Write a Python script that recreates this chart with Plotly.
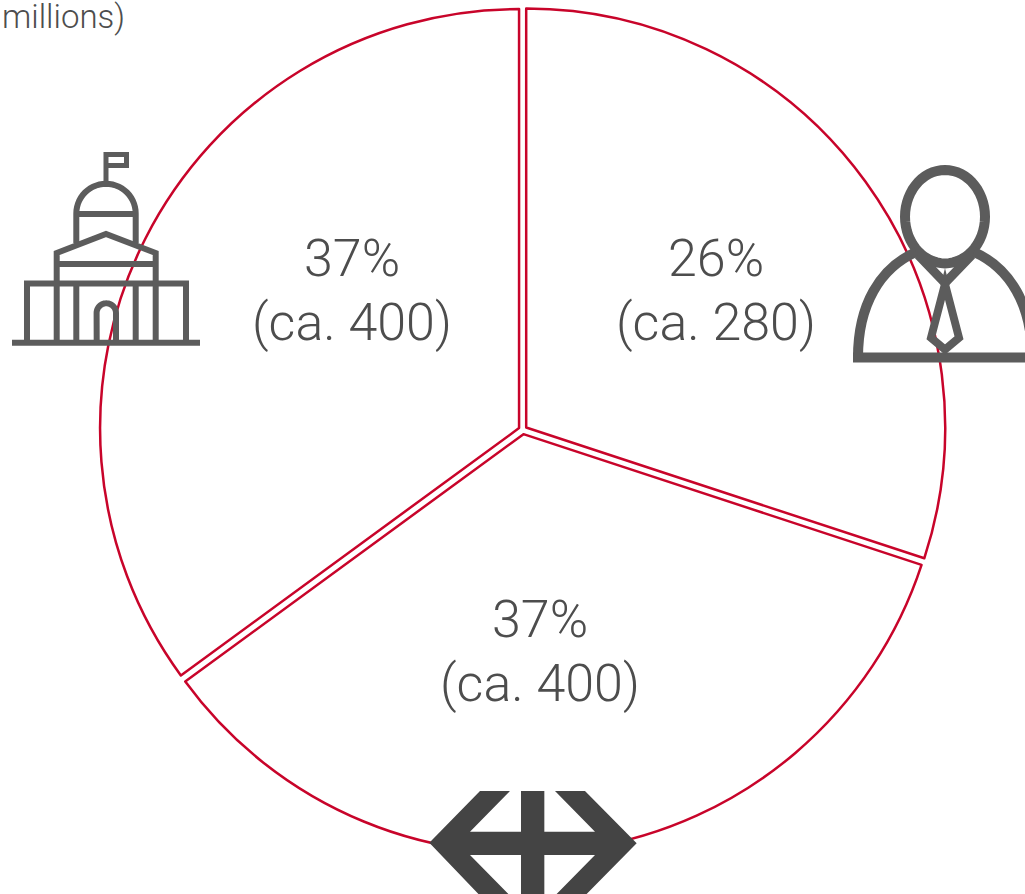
import math
import plotly.graph_objects as go

W, H = 1025, 894
RED = "#c8042a"
TEXT = "#4d4d4d"
ICON = "#5c5c5c"
ICON_DARK = "#444444"
FONT = "Roboto"

slice_names = ["Private", "Cross-border", "Public"]
slice_shares = [30.05, 34.9, 35.05]
# Printed labels
label_pct = ["26%", "37%", "37%"]
label_amount = ["(ca. 280)", "(ca. 400)", "(ca. 400)"]
label_x_px = [716, 540, 352]
pct_y_px = [258, 619, 258]
amount_y_px = [322, 683, 322]
cut_title = "millions)"

# pie geometry in pixels
cx, cy, rad, pull = 522.8, 430.0, 419.0, 0.01
half = rad * (1 + pull)


def px(x):
    return x / W


def py(y):
    return 1 - y / H


def P(cmds):
    """Build an SVG path in paper units from tuples given in page pixels."""
    out = []
    for c in cmds:
        if c[0] == "Z":
            out.append("Z")
        else:
            pts = c[1:]
            s = " ".join(f"{px(pts[i]):.5f},{py(pts[i+1]):.5f}" for i in range(0, len(pts), 2))
            out.append(f"{c[0]} {s}")
    return " ".join(out)


def stroke(cmds, width, color=ICON):
    return dict(type="path", xref="paper", yref="paper", path=P(cmds), layer="above",
                line=dict(color=color, width=width), fillcolor="rgba(0,0,0,0)")


def filled(cmds, color):
    return dict(type="path", xref="paper", yref="paper", path=P(cmds), layer="above",
                line=dict(width=0), fillcolor=color)


def arc_pts(x0, y0, rx, ry, a0, a1, n=28):
    return [(x0 + rx * math.cos(math.radians(a0 + (a1 - a0) * i / n)),
             y0 + ry * math.sin(math.radians(a0 + (a1 - a0) * i / n))) for i in range(n + 1)]


def poly(pts, close=False):
    c = [("M", pts[0][0], pts[0][1])] + [("L", p[0], p[1]) for p in pts[1:]]
    if close:
        c.append(("Z",))
    return c


shapes = []
# --- building icon ---
sw = 6
shapes += [
    stroke(poly([(12, 342.7), (200, 342.7)]), sw),
    stroke(poly([(27, 342), (27, 283.5), (186, 283.5), (186, 342)]), sw),
    stroke(poly([(56.7, 342), (56.7, 253), (106, 234), (155.7, 253), (155.7, 342)]), sw),
    stroke(poly([(76.3, 284), (76.3, 342)]), sw),
    stroke(poly([(135.7, 284), (135.7, 342)]), sw),
    stroke(poly([(57, 264), (155, 264)]), sw),
    stroke(poly([(76.3, 243)] + arc_pts(106, 213.5, 29.7, 29.7, 180, 360) + [(135.7, 243)]), sw),
    stroke(poly([(76, 214), (136, 214)]), sw),
    stroke(poly([(106, 184), (106, 154.5), (126.5, 154.5), (126.5, 165.5), (106, 165.5)]), 5),
    stroke(poly([(96.7, 342)] + arc_pts(106.3, 313, 9.7, 9.7, 180, 360) + [(116, 342)]), sw),
]
# --- person icon ---
shapes += [
    stroke(poly(arc_pts(945, 216.7, 40, 46.7, 0, 360, 60), True), 10),
    stroke(poly([(853, 357.5), (1040, 357.5)]), 10),
    stroke([("M", 858, 357.5), ("C", 858, 305, 880, 268, 916, 252)], 10),
    stroke([("M", 974, 252), ("C", 1010, 268, 1032, 305, 1032, 357.5)], 10),
    stroke(poly([(918, 255), (945, 283), (972, 255)]), 9),
    stroke(poly([(945, 284), (931, 337.7), (945, 349.5), (959, 337.7)], True), 8),
]
# --- Swiss arrow icon ---
arrow = [(180, 33), (270, 33), (150, 155), (303, 155), (303, 33), (373, 33), (373, 155),
         (525, 155), (405, 33), (495, 33), (650, 190), (495, 347), (405, 347), (525, 225),
         (373, 225), (373, 347), (303, 347), (303, 225), (150, 225), (270, 347), (180, 347),
         (28, 188)]
shapes.append(filled(poly([(420 + x / 3, 780 + y / 3) for x, y in arrow], True), ICON_DARK))

LABEL_FONT = dict(family=FONT, size=52, color=TEXT, weight=300)
annotations = []
for x, yp, ya, p, a in zip(label_x_px, pct_y_px, amount_y_px, label_pct, label_amount):
    for y, t in ((yp, p), (ya, a)):
        annotations.append(dict(x=px(x), y=py(y), xref="paper", yref="paper", xanchor="center",
                                yanchor="middle", text=t, showarrow=False, font=LABEL_FONT))
annotations.append(dict(x=0, y=py(17), xref="paper", yref="paper", xanchor="left", yanchor="middle",
                        text=cut_title, showarrow=False,
                        font=dict(family=FONT, size=33, color=TEXT, weight=300)))

fig = go.Figure(go.Pie(
    labels=slice_names, values=slice_shares, sort=False, direction="clockwise", rotation=0,
    pull=pull, textinfo="none", hoverinfo="skip", showlegend=False,
    marker=dict(colors=["#ffffff"] * 3, line=dict(color=RED, width=2.5)),
    domain=dict(x=[px(cx - half), px(cx + half)], y=[py(cy + half), py(cy - half)]),
))
fig.update_layout(width=W, height=H, margin=dict(l=0, r=0, t=0, b=0), paper_bgcolor="white",
                  plot_bgcolor="white", shapes=shapes, annotations=annotations)
fig.write_html("out.html", config=dict(displayModeBar=False),
               post_script="document.body.style.margin='0';document.documentElement.style.overflow='hidden';")
